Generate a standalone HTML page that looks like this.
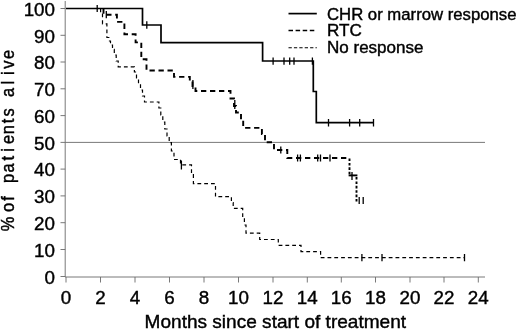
<!DOCTYPE html>
<html>
<head>
<meta charset="utf-8">
<title>Survival by response</title>
<style>
html,body{margin:0;padding:0;background:#fff;}
body{width:520px;height:330px;overflow:hidden;position:relative;}
svg{display:block;position:absolute;left:0;top:0;}
text{font-family:"Liberation Sans",sans-serif;fill:#000;stroke:#000;stroke-width:0.4px;}
.ax{stroke:#6a6a6a;stroke-width:0.9;fill:none;}
.tk{font-size:18.8px;}
.lg{font-size:16.3px;}
.yl{font-size:16.4px;}
.s{stroke:#000;stroke-width:1.7;fill:none;stroke-linejoin:miter;}
.d{stroke:#000;stroke-width:1.9;fill:none;stroke-dasharray:5.3 3.7;}
.o{stroke:#000;stroke-width:1.2;fill:none;stroke-dasharray:3.8 3;}
.c{stroke:#000;stroke-width:1.3;fill:none;}
</style>
</head>
<body>
<svg width="520" height="330" viewBox="0 0 520 330">
<!-- axes -->
<g class="ax">
<path d="M65.2,1 V277 H485"/>
<path d="M60.5,8.5H65.2 M60.5,35.3H65.2 M60.5,62H65.2 M60.5,88.8H65.2 M60.5,115.6H65.2 M60.5,142.4H65.2 M60.5,169.1H65.2 M60.5,195.9H65.2 M60.5,222.7H65.2 M60.5,249.5H65.2 M60.5,276.5H65.2"/>
<path d="M66,277V282.5 M100.5,277V282.5 M135,277V282.5 M169.5,277V282.5 M204,277V282.5 M238.5,277V282.5 M273,277V282.5 M307.3,277V282.5 M341.3,277V282.5 M375.5,277V282.5 M410,277V282.5 M444,277V282.5 M478.3,277V282.5"/>
<path d="M65.2,142.4H485"/>
</g>
<!-- y tick labels -->
<g class="tk" text-anchor="end">
<text x="55" y="15.5">100</text>
<text x="55" y="42.5">90</text>
<text x="55" y="69.2">80</text>
<text x="55" y="96.0">70</text>
<text x="55" y="122.8">60</text>
<text x="55" y="149.5">50</text>
<text x="55" y="176.3">40</text>
<text x="55" y="203.1">30</text>
<text x="55" y="229.9">20</text>
<text x="55" y="256.7">10</text>
<text x="55" y="283.5">0</text>
</g>
<!-- x tick labels -->
<g class="tk" text-anchor="middle">
<text x="66" y="303.6">0</text>
<text x="100.5" y="303.6">2</text>
<text x="135" y="303.6">4</text>
<text x="169.5" y="303.6">6</text>
<text x="204" y="303.6">8</text>
<text x="238.5" y="303.6">10</text>
<text x="273" y="303.6">12</text>
<text x="307.3" y="303.6">14</text>
<text x="341.3" y="303.6">16</text>
<text x="375.5" y="303.6">18</text>
<text x="410" y="303.6">20</text>
<text x="444" y="303.6">22</text>
<text x="478.3" y="303.6">24</text>
</g>
<text class="tk" x="144.6" y="328" textLength="261.5" lengthAdjust="spacingAndGlyphs" style="font-size:18.2px">Months since start of treatment</text>
<text class="yl" transform="translate(13.5,232) rotate(-90) scale(1,1.07)" x="0.8 14 20 31.3 38 48.9 59.6 71.5 80.3 88 97.8 108.7 115.6 126 135 147.4 157.1 163.3 172.9" y="0">% of patients alive</text>
<!-- legend -->
<path class="s" d="M288.5,13.6H316.8"/>
<path class="d" style="stroke-width:1.5;stroke-dasharray:4.5 2.6" d="M288.5,30.6H316.8"/>
<path class="o" style="stroke-width:1.1;stroke-dasharray:3.3 2.1" d="M288.5,47.7H316.8"/>
<g class="lg">
<text x="327" y="19.5" textLength="189.5" lengthAdjust="spacingAndGlyphs">CHR or marrow response</text>
<text x="327" y="36.2" textLength="34.8" lengthAdjust="spacingAndGlyphs">RTC</text>
<text x="327" y="53" textLength="96.5" lengthAdjust="spacingAndGlyphs">No response</text>
</g>
<!-- No response (dotted) -->
<path class="o" d="M100.6,8.5V12.5H102.5V23.8H106.9V37.5H108.8V41H110.5V45H112.5V49.3H114.3V55H116.2V61H118.2V66.8H134.4V72H136.5V78H138.5V84H140.5V90H142.5V96H144.5V102H158.9V108H160.8V115H162.8V122H164.8V129H167V136H169.2V142.7H171.4V151H174V159.5H180.5V164.8H191.5V174H193.4V183.7H215.5V196.7H231.4V202.5H233.2V208.4H242.7V217H244.4V225H246V233.2H259.7V239.5H278.3V245.3H301V251.6H320.6V257.6H464.5"/>
<path class="c" d="M181.4,160.5V169.5 M361.9,254V261.3 M382,254V261.3 M464.5,254V261.3"/>
<!-- RTC (dashed) -->
<path class="d" d="M103.5,8.5V14.8H116.9V21.9H124.4V34.3H135.6V42.4H141.3V59.3H146.5V70.5H174V76.9H189.8V80.5H192.5V86H195.5V91H230.5V98.5H234V106H236V112.5H241V120H243.2V127.9H261.9V134H265V142.3H274V150H287.3V158H349.5"/>
<path class="d" style="stroke-dasharray:2.6 1.8" d="M349.5,158.5V175.4"/>
<path class="d" style="stroke-dasharray:none" d="M348.6,175.4H357.4"/>
<path class="d" style="stroke-dasharray:2.6 1.8" d="M356.5,177V201.5"/>
<path class="c" d="M106.3,11V18.3 M192.9,80V89 M234.8,100V109 M280.8,146.5V153.5 M297.6,154.4V161.6 M300.4,154.4V161.6 M317.7,154.4V161.6 M320.5,154.4V161.6 M330,154.4V161.6 M352,172V180 M359.2,197V204 M363.2,197V204"/>
<!-- CHR (solid) -->
<path class="s" d="M66,8.5H142.5V25H161V42.6H262.6V61H313.3V91.5H316.3V122.7H373.5"/>
<path class="c" d="M97.2,5V12 M146.8,21.3V28.7 M273.1,57.5V64.7 M284,57.5V64.7 M289.7,57.5V64.7 M294,57.5V64.7 M312.4,57.5V64.7 M328.5,119V126.5 M349.6,119V126.5 M359.7,119V126.5 M373.5,119V126.5"/>
</svg>
</body>
</html>
